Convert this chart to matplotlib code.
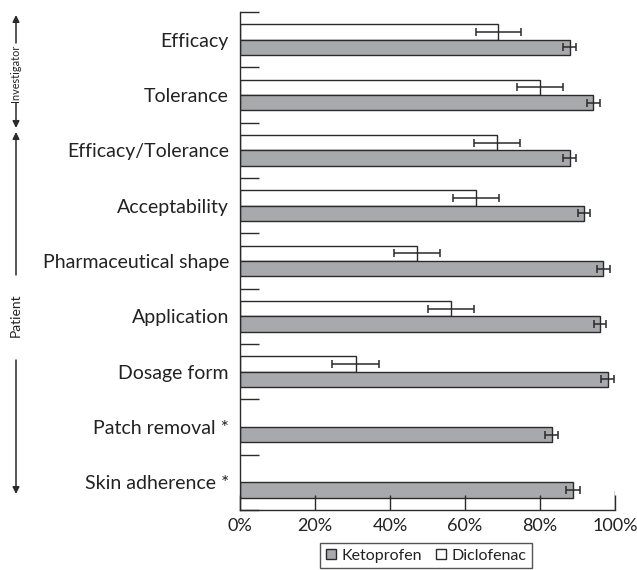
import matplotlib
matplotlib.use("Agg")
import matplotlib.pyplot as plt
from matplotlib.lines import Line2D
from matplotlib.patches import FancyArrowPatch
import numpy as np

plt.rcParams['font.family'] = ['Lato', 'DejaVu Sans']

categories = ["Efficacy", "Tolerance", "Efficacy/Tolerance", "Acceptability",
              "Pharmaceutical shape", "Application", "Dosage form",
              "Patch removal *", "Skin adherence *"]
keto = [87.9, 94.2, 87.9, 91.7, 96.9, 96.0, 98.0, 83.1, 88.8]
keto_err = [1.7, 1.7, 1.7, 1.7, 1.7, 1.7, 1.7, 1.7, 1.8]
diclo = [68.9, 80.0, 68.5, 62.9, 47.1, 56.3, 30.8, np.nan, np.nan]
diclo_err = [6.1, 6.1, 6.1, 6.1, 6.1, 6.1, 6.2, np.nan, np.nan]
xticks = [0, 20, 40, 60, 80, 100]
xticklabels = ["0%", "20%", "40%", "60%", "80%", "100%"]

W, H = 637, 570
fig = plt.figure(figsize=(W/100, H/100), dpi=100)
ax = fig.add_axes([240/W, 1-510/H, 375/W, 498/H])

gray = "#a8a9ac"
edge = "#2a2a2a"
txt = "#222222"
bh = 0.28
y = np.arange(len(categories))

ax.barh(y - bh/2, diclo, height=bh, color="white", edgecolor=edge, linewidth=1.0,
        xerr=diclo_err, error_kw=dict(ecolor=edge, elinewidth=1.1, capsize=3, capthick=1.1))
ax.barh(y + bh/2, keto, height=bh, color=gray, edgecolor=edge, linewidth=1.0,
        xerr=keto_err, error_kw=dict(ecolor=edge, elinewidth=1.1, capsize=3, capthick=1.1))

ax.set_xlim(0, 100)
ax.set_ylim(len(categories) - 0.5, -0.5)
ax.spines['top'].set_visible(False)
ax.spines['right'].set_visible(False)
for s in ['left', 'bottom']:
    ax.spines[s].set_color(edge)
    ax.spines[s].set_linewidth(1.0)

ax.set_xticks(xticks)
ax.set_xticklabels(xticklabels, fontsize=13, color=txt)
ax.tick_params(axis='x', direction='in', length=11, width=1.0, color=edge, pad=6)
ax.axvline(100, ymin=0, ymax=19/498, color=edge, linewidth=1.0)

ax.set_yticks(y)
ax.set_yticklabels(categories, fontsize=14, color=txt)
ax.tick_params(axis='y', which='major', length=0, pad=8)
ax.set_yticks(np.arange(-0.5, len(categories) + 0.5, 1), minor=True)
ax.tick_params(axis='y', which='minor', direction='in', length=14, width=1.0, color=edge)

handles = [Line2D([], [], linestyle='none', marker='s', markersize=7, markerfacecolor=gray,
                  markeredgecolor=edge, markeredgewidth=1.0),
           Line2D([], [], linestyle='none', marker='s', markersize=7, markerfacecolor='white',
                  markeredgecolor=edge, markeredgewidth=1.0)]
leg = fig.legend(handles, ["Ketoprofen", "Diclofenac"], loc='upper center',
                 bbox_to_anchor=(426/W, 1-543/H), ncol=2, fontsize=11.5, frameon=True,
                 fancybox=False, handlelength=0.7, handletextpad=0.3, columnspacing=0.8,
                 borderpad=0.35, borderaxespad=0)
leg.get_frame().set_edgecolor(edge)
leg.get_frame().set_linewidth(1.0)
for t in leg.get_texts():
    t.set_color(txt)

def fy(v):
    return H - v

ax_x = 16
arrow_kw = dict(arrowstyle='-|>', color=edge, lw=1.1, mutation_scale=10, shrinkA=0, shrinkB=0)
# Investigator
fig.add_artist(FancyArrowPatch((ax_x, fy(43)), (ax_x, fy(15)), transform=None, **arrow_kw))
fig.add_artist(FancyArrowPatch((ax_x, fy(103)), (ax_x, fy(128)), transform=None, **arrow_kw))
fig.text(ax_x/W, 1-73/H, "Investigator", rotation=90, ha='center', va='center',
         fontsize=7.8, color=txt)
# Patient
fig.add_artist(FancyArrowPatch((ax_x, fy(275)), (ax_x, fy(132)), transform=None, **arrow_kw))
fig.add_artist(FancyArrowPatch((ax_x, fy(360)), (ax_x, fy(494)), transform=None, **arrow_kw))
fig.text(ax_x/W, 1-315/H, "Patient", rotation=90, ha='center', va='center',
         fontsize=10, color=txt)

fig.savefig("out.png", dpi=100)
